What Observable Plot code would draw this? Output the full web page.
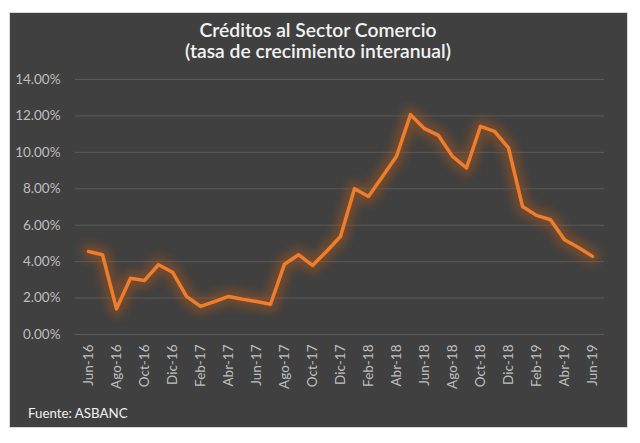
<!DOCTYPE html>
<html>
<head>
<meta charset="utf-8">
<script src="https://cdn.jsdelivr.net/npm/d3@7"></script>
<script src="https://cdn.jsdelivr.net/npm/@observablehq/plot@0.6"></script>
<style>
  html, body { margin: 0; padding: 0; background: #ffffff; }
  #wrap { position: relative; width: 640px; height: 443px; overflow: hidden; font-family: Lato, "Open Sans", sans-serif; }
  #panel { position: absolute; left: 9px; top: 12px; width: 617px; height: 414px; background: #404040; border: 1px solid #d9d9d9; }
  #title { position: absolute; left: 0; top: 19px; width: 636px; text-align: center; color: #f2f2f2; font-size: 19.3px; font-weight: 600; line-height: 21px; }
  #caption { position: absolute; left: 28px; top: 405px; color: #f2f2f2; font-size: 13.3px; line-height: 16px; }
  #chart { position: absolute; left: 0; top: 0; }
  .glow path { filter: blur(5px); }
</style>
</head>
<body>
<div id="wrap">
  <div id="panel"></div>
  <div id="chart"></div>
  <div id="title">Créditos al Sector Comercio<br>(tasa de crecimiento interanual)</div>
  <div id="caption">Fuente: ASBANC</div>
</div>
<script>
const months = [
  "Jun-16","Jul-16","Ago-16","Sep-16","Oct-16","Nov-16","Dic-16",
  "Ene-17","Feb-17","Mar-17","Abr-17","May-17","Jun-17","Jul-17","Ago-17","Sep-17","Oct-17","Nov-17","Dic-17",
  "Ene-18","Feb-18","Mar-18","Abr-18","May-18","Jun-18","Jul-18","Ago-18","Sep-18","Oct-18","Nov-18","Dic-18",
  "Ene-19","Feb-19","Mar-19","Abr-19","May-19","Jun-19"
];
const growth = [
  4.56, 4.38, 1.41, 3.09, 2.97, 3.83, 3.42,
  2.09, 1.54, 1.81, 2.09, 1.94, 1.81, 1.66, 3.86, 4.38, 3.79, 4.56, 5.38,
  8.00, 7.58, 8.68, 9.78, 12.07, 11.30, 10.93, 9.78, 9.14, 11.43, 11.15, 10.24,
  7.03, 6.54, 6.30, 5.20, 4.78, 4.29
];
const tickLabels = ["Jun-16","Ago-16","Oct-16","Dic-16","Feb-17","Abr-17","Jun-17","Ago-17","Oct-17","Dic-17","Feb-18","Abr-18","Jun-18","Ago-18","Oct-18","Dic-18","Feb-19","Abr-19","Jun-19"];
const yTicks = [0, 0.02, 0.04, 0.06, 0.08, 0.10, 0.12, 0.14];

const data = months.map((m, i) => ({month: m, value: growth[i] / 100}));

const chart = Plot.plot({
  width: 640,
  height: 443,
  marginLeft: 75,
  marginRight: 36,
  marginTop: 79,
  marginBottom: 109,
  style: {background: "transparent", color: "#bfbfbf", fontFamily: "Lato, 'Open Sans', sans-serif", fontSize: "13.5px"},
  x: {type: "point", domain: months, padding: 0.5, ticks: tickLabels, tickSize: 0, tickPadding: 10, tickRotate: -90, label: null},
  y: {domain: [0, 0.14], ticks: yTicks, tickFormat: d3.format(".2%"), tickSize: 0, tickPadding: 15, label: null},
  marks: [
    Plot.ruleY(yTicks, {stroke: "#5a5a5a", strokeWidth: 1}),
    Plot.line(data, {x: "month", y: "value", stroke: "#a8561c", strokeWidth: 15, strokeOpacity: 0.5, className: "glow"}),
    Plot.line(data, {x: "month", y: "value", stroke: "#ee7d2e", strokeWidth: 3.5, strokeLinejoin: "round", strokeLinecap: "round"})
  ]
});
chart.querySelectorAll("[aria-label='x-axis tick label'] text, [aria-label='y-axis tick label'] text").forEach(t => t.setAttribute("fill", "#bfbfbf"));
document.getElementById("chart").appendChild(chart);
</script>
</body>
</html>
